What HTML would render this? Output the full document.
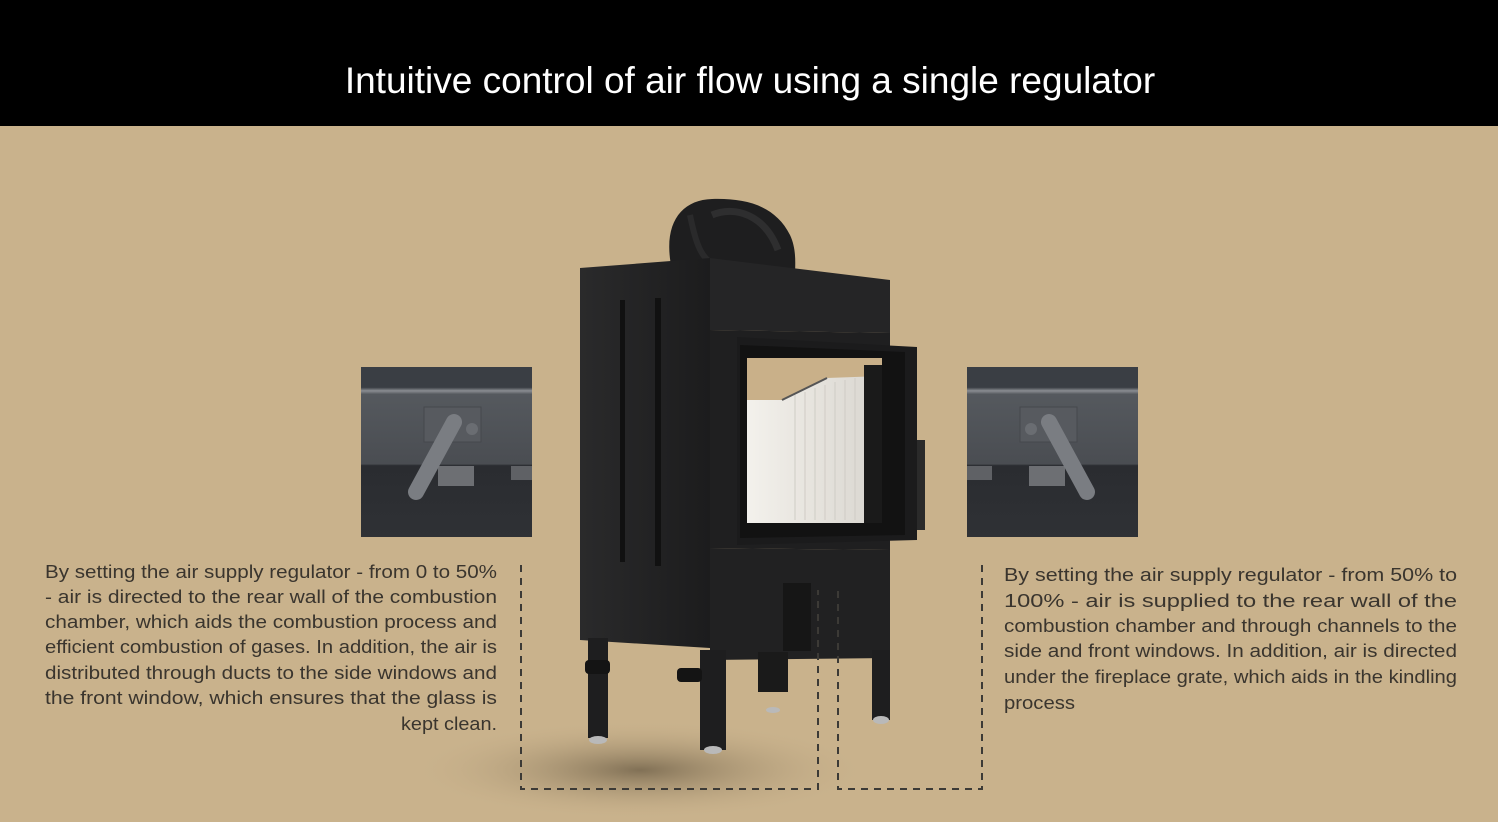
<!DOCTYPE html>
<html><head><meta charset="utf-8"><style>
html,body{margin:0;padding:0;width:1498px;height:822px;overflow:hidden;background:#c9b28c}
</style></head><body>
<svg width="1498" height="822" viewBox="0 0 1498 822" xmlns="http://www.w3.org/2000/svg">
<defs>
<radialGradient id="sh" cx="0.5" cy="0.5" r="0.5">
<stop offset="0" stop-color="#6f6048" stop-opacity="0.8"/><stop offset="1" stop-color="#c9b28c" stop-opacity="0"/></radialGradient>
<linearGradient id="side" x1="0" x2="1"><stop offset="0" stop-color="#2a2a2b"/><stop offset="1" stop-color="#1c1c1d"/></linearGradient>
<linearGradient id="glass" x1="0" x2="1"><stop offset="0" stop-color="#f3f1ec"/><stop offset="0.5" stop-color="#e6e3dd"/><stop offset="1" stop-color="#d8d5cf"/></linearGradient>
<linearGradient id="ins" x1="0" y1="0" x2="0" y2="1"><stop offset="0" stop-color="#3a3e44"/><stop offset="0.12" stop-color="#3a3e44"/><stop offset="0.14" stop-color="#8a8d92"/><stop offset="0.16" stop-color="#55595e"/><stop offset="0.57" stop-color="#4a4d52"/><stop offset="0.58" stop-color="#2a2c30"/><stop offset="1" stop-color="#2f3135"/></linearGradient>
</defs>
<rect x="0" y="0" width="1498" height="126" fill="#000"/>
<text x="750" y="93" font-family="Liberation Sans, sans-serif" font-size="37" fill="#fff" text-anchor="middle">Intuitive control of air flow using a single regulator</text>
<ellipse cx="640" cy="770" rx="230" ry="50" fill="url(#sh)"/>
<path d="M672 270 C662 225 680 200 712 199 C745 198 775 205 790 235 C797 250 795 265 795 278 L672 278 Z" fill="#1e1e1f"/>
<path d="M712 215 C735 205 765 215 778 250" stroke="#2e2e2f" stroke-width="7" fill="none"/>
<path d="M690 215 C695 240 700 255 710 262" stroke="#2a2a2b" stroke-width="6" fill="none"/>
<polygon points="580,268 710,258 710,648 580,640" fill="url(#side)"/>
<rect x="620" y="300" width="5" height="262" fill="#111"/>
<rect x="655" y="298" width="6" height="268" fill="#111"/>
<polygon points="710,258 890,280 890,333 710,330" fill="#252526"/>
<polygon points="710,330 890,333 890,550 710,548" fill="#1f1f20"/>
<polygon points="737,337 917,347 917,540 737,545" fill="#1b1b1c"/>
<polygon points="740,345 905,352 905,535 740,538" fill="#121212"/>
<rect x="747" y="358" width="135" height="165" fill="url(#glass)"/>
<polygon points="747,358 882,358 882,376 827,378 782,400 747,400" fill="#c9b089"/>
<line x1="782" y1="400" x2="827" y2="378" stroke="#555" stroke-width="2"/>
<g stroke="#cfccc5" stroke-width="1"><line x1="795" y1="395" x2="795" y2="520"/><line x1="805" y1="392" x2="805" y2="520"/><line x1="815" y1="388" x2="815" y2="520"/><line x1="825" y1="385" x2="825" y2="520"/><line x1="835" y1="382" x2="835" y2="520"/><line x1="845" y1="380" x2="845" y2="520"/><line x1="855" y1="378" x2="855" y2="520"/></g>
<rect x="864" y="365" width="18" height="158" fill="#1a1a1a"/>
<rect x="917" y="440" width="8" height="90" fill="#2a2a2a"/>
<polygon points="710,548 890,550 890,658 710,660" fill="#212122"/>
<rect x="783" y="583" width="28" height="68" fill="#161616"/>
<rect x="588" y="638" width="20" height="100" fill="#1e1e1f"/>
<rect x="700" y="650" width="26" height="100" fill="#1e1e1f"/>
<rect x="872" y="650" width="18" height="70" fill="#1e1e1f"/>
<rect x="758" y="652" width="30" height="40" fill="#1a1a1a"/>
<rect x="585" y="660" width="25" height="14" rx="4" fill="#141414"/>
<rect x="677" y="668" width="25" height="14" rx="4" fill="#141414"/>
<ellipse cx="598" cy="740" rx="9" ry="4" fill="#b9b9b9"/><ellipse cx="713" cy="750" rx="9" ry="4" fill="#b9b9b9"/><ellipse cx="881" cy="720" rx="8" ry="4" fill="#b9b9b9"/><ellipse cx="773" cy="710" rx="7" ry="3" fill="#b9b9b9"/>
<g transform="translate(361,367)">
<rect width="171" height="170" fill="url(#ins)"/>
<rect x="63" y="40" width="57" height="35" fill="#575a5f" stroke="#45484c"/>
<rect x="77" y="99" width="36" height="20" fill="#6d6f73"/>
<rect x="150" y="99" width="21" height="14" fill="#5f6165"/>
<line x1="93" y1="55" x2="55" y2="125" stroke="#7a7d82" stroke-width="16" stroke-linecap="round"/>
<circle cx="111" cy="62" r="6" fill="#6a6d72"/>
</g>
<g transform="translate(967,367)">
<rect width="171" height="170" fill="url(#ins)"/>
<rect x="53" y="40" width="57" height="35" fill="#575a5f" stroke="#45484c"/>
<rect x="62" y="99" width="36" height="20" fill="#6d6f73"/>
<rect x="0" y="99" width="25" height="14" fill="#5f6165"/>
<line x1="82" y1="55" x2="120" y2="125" stroke="#7a7d82" stroke-width="16" stroke-linecap="round"/>
<circle cx="64" cy="62" r="6" fill="#6a6d72"/>
</g>
<g stroke="#3c3a36" stroke-width="2" stroke-dasharray="7,6" fill="none">
<path d="M521 565 V789 H818 V590"/>
<path d="M982 565 V789 H838 V590"/>
</g>
<g font-family="Liberation Sans, sans-serif" font-size="18" fill="#3a352e">
<text x="45" y="578" textLength="452" lengthAdjust="spacingAndGlyphs">By setting the air supply regulator - from 0 to 50%</text>
<text x="45" y="603" textLength="452" lengthAdjust="spacingAndGlyphs">- air is directed to the rear wall of the combustion</text>
<text x="45" y="628" textLength="452" lengthAdjust="spacingAndGlyphs">chamber, which aids the combustion process and</text>
<text x="45" y="653" textLength="452" lengthAdjust="spacingAndGlyphs">efficient combustion of gases. In addition, the air is</text>
<text x="45" y="679" textLength="452" lengthAdjust="spacingAndGlyphs">distributed through ducts to the side windows and</text>
<text x="45" y="704" textLength="452" lengthAdjust="spacingAndGlyphs">the front window, which ensures that the glass is</text>
<text x="401" y="730" textLength="96" lengthAdjust="spacingAndGlyphs">kept clean.</text>
<text x="1004" y="581" textLength="453" lengthAdjust="spacingAndGlyphs">By setting the air supply regulator - from 50% to</text>
<text x="1004" y="607" textLength="453" lengthAdjust="spacingAndGlyphs">100% - air is supplied to the rear wall of the</text>
<text x="1004" y="632" textLength="453" lengthAdjust="spacingAndGlyphs">combustion chamber and through channels to the</text>
<text x="1004" y="657" textLength="453" lengthAdjust="spacingAndGlyphs">side and front windows. In addition, air is directed</text>
<text x="1004" y="683" textLength="453" lengthAdjust="spacingAndGlyphs">under the fireplace grate, which aids in the kindling</text>
<text x="1004" y="709" textLength="71" lengthAdjust="spacingAndGlyphs">process</text>
</g>
</svg>
</body></html>
